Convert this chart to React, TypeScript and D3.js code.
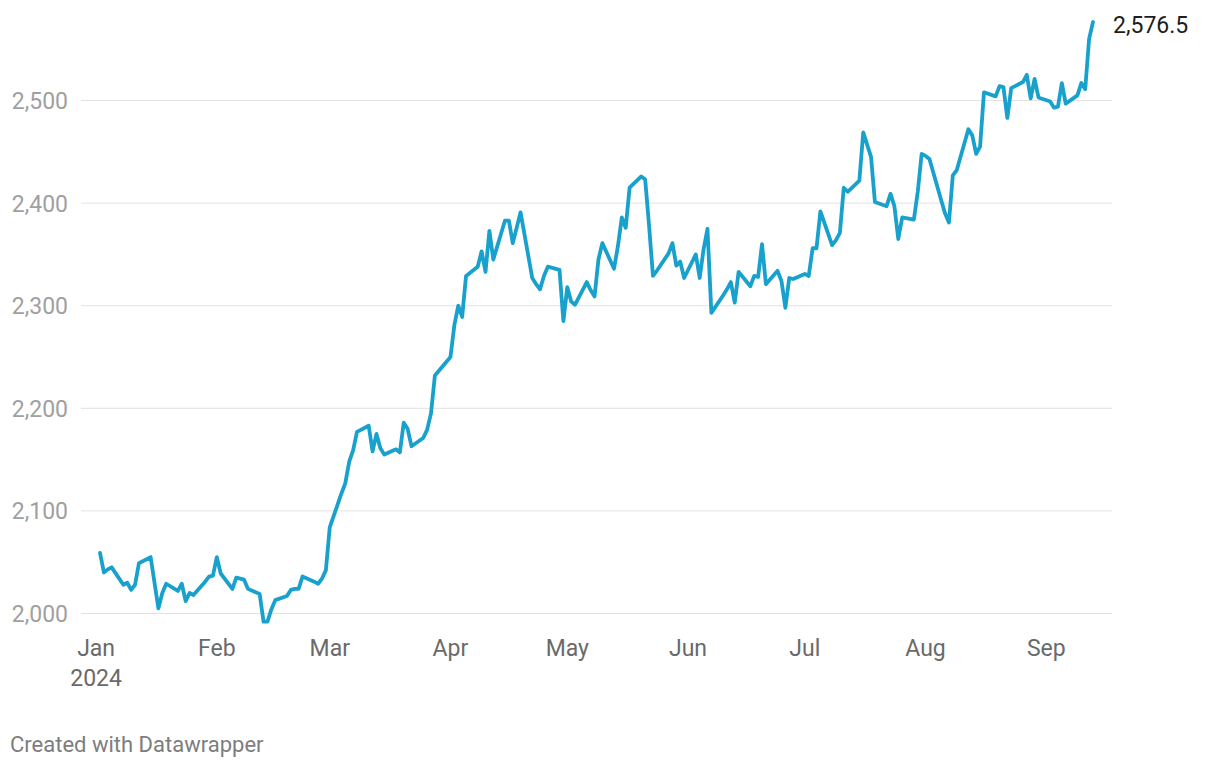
import React from "react";
import * as d3 from "d3";

// daily closes, [day of month, value]
const jan = [[2, 2059], [3, 2040], [4, 2043], [5, 2045], [8, 2028], [9, 2030], [10, 2023], [11, 2028], [12, 2049], [15, 2055], [16, 2030], [17, 2005], [18, 2020], [19, 2029], [22, 2022], [23, 2029], [24, 2012], [25, 2020], [26, 2018], [29, 2031], [30, 2036], [31, 2037]];
const feb = [[1, 2055], [2, 2039], [5, 2024], [6, 2035], [7, 2034], [8, 2033], [9, 2024], [12, 2019], [13, 1992], [14, 1992], [15, 2004], [16, 2013], [19, 2017], [20, 2023], [21, 2024], [22, 2024], [23, 2036], [26, 2031], [27, 2029], [28, 2034], [29, 2042]];
const mar = [[1, 2084], [4, 2117], [5, 2127], [6, 2148], [7, 2159], [8, 2177], [11, 2183], [12, 2158], [13, 2175], [14, 2161], [15, 2155], [18, 2160], [19, 2157], [20, 2186], [21, 2180], [22, 2163], [25, 2171], [26, 2179], [27, 2195], [28, 2232]];
const apr = [[1, 2250], [2, 2281], [3, 2300], [4, 2289], [5, 2329], [8, 2338], [9, 2353], [10, 2333], [11, 2373], [12, 2345], [15, 2383], [16, 2383], [17, 2361], [18, 2376], [19, 2391], [22, 2327], [23, 2321], [24, 2316], [25, 2329], [26, 2338], [29, 2335], [30, 2285]];
const may = [[1, 2318], [2, 2304], [3, 2301], [6, 2323], [7, 2315], [8, 2309], [9, 2345], [10, 2361], [13, 2336], [14, 2358], [15, 2386], [16, 2376], [17, 2415], [20, 2426], [21, 2423], [22, 2378], [23, 2329], [24, 2334], [27, 2351], [28, 2361], [29, 2339], [30, 2343], [31, 2327]];
const jun = [[3, 2350], [4, 2327], [5, 2355], [6, 2375], [7, 2293], [10, 2310], [11, 2316], [12, 2323], [13, 2303], [14, 2333], [17, 2319], [18, 2329], [19, 2328], [20, 2360], [21, 2321], [24, 2334], [25, 2324], [26, 2298], [27, 2327], [28, 2326]];
const jul = [[1, 2331], [2, 2329], [3, 2356], [4, 2356], [5, 2392], [8, 2359], [9, 2364], [10, 2371], [11, 2415], [12, 2411], [15, 2422], [16, 2469], [17, 2457], [18, 2445], [19, 2401], [22, 2397], [23, 2409], [24, 2397], [25, 2365], [26, 2386], [29, 2384], [30, 2411], [31, 2448]];
const aug = [[1, 2446], [2, 2443], [5, 2403], [6, 2390], [7, 2381], [8, 2427], [9, 2432], [12, 2472], [13, 2466], [14, 2448], [15, 2455], [16, 2508], [19, 2504], [20, 2514], [21, 2513], [22, 2483], [23, 2512], [26, 2518], [27, 2525], [28, 2502], [29, 2521], [30, 2503]];
const sep = [[2, 2499], [3, 2493], [4, 2494], [5, 2517], [6, 2497], [9, 2505], [10, 2517], [11, 2511], [12, 2560], [13, 2576.5]];

const months = [jan, feb, mar, apr, may, jun, jul, aug, sep];
const monthLabels = ["Jan", "Feb", "Mar", "Apr", "May", "Jun", "Jul", "Aug", "Sep"];
const yTicks = [2000, 2100, 2200, 2300, 2400, 2500];

const data = months.flatMap((m, i) =>
  m.map(([day, value]) => ({date: new Date(Date.UTC(2024, i, day)), value}))
);

const W = 1220, H = 768;
const font = "Roboto, sans-serif";

export default function App() {
  const x = d3.scaleUtc()
    .domain([new Date(Date.UTC(2024, 0, 1)), new Date(Date.UTC(2024, 8, 13))])
    .range([96.1, 1093]);
  const y = d3.scaleLinear().domain([2000, 2500]).range([613.5, 100.5]);

  const line = d3.line<{date: Date, value: number}>()
    .x(d => x(d.date))
    .y(d => y(d.value));

  const last = data[data.length - 1];
  const fmt = d3.format(",");

  return (
    <div style={{position: "absolute", left: 0, top: 0}}>
      <svg width={W} height={H} style={{display: "block", fontFamily: font}}>
        <rect width={W} height={H} fill="#fff"/>
        {yTicks.map(t => (
          <g key={t}>
            <line x1={81} x2={1112} y1={y(t)} y2={y(t)} stroke="#e2e2e2" strokeWidth={1}/>
            <text x={68} y={y(t) + 8.5} textAnchor="end" fontSize={23} fill="#a0a0a0">{fmt(t)}</text>
          </g>
        ))}
        {monthLabels.map((m, i) => (
          <text key={m} x={x(new Date(Date.UTC(2024, i, 1)))} y={656} textAnchor="middle"
            fontSize={23} fill="#6a6a6a">{m}</text>
        ))}
        <text x={x(new Date(Date.UTC(2024, 0, 1)))} y={686} textAnchor="middle" fontSize={23} fill="#6a6a6a">2024</text>
        <path d={line(data) ?? ""} fill="none" stroke="#18a1cd" strokeWidth={3.8}
          strokeLinejoin="round" strokeLinecap="round"/>
        <text x={1113} y={33} fontSize={23} fill="#1d1d1d">{d3.format(",.1f")(last.value)}</text>
        <text x={10} y={752} fontSize={22} fill="#7d7d7d">Created with Datawrapper</text>
      </svg>
    </div>
  );
}
